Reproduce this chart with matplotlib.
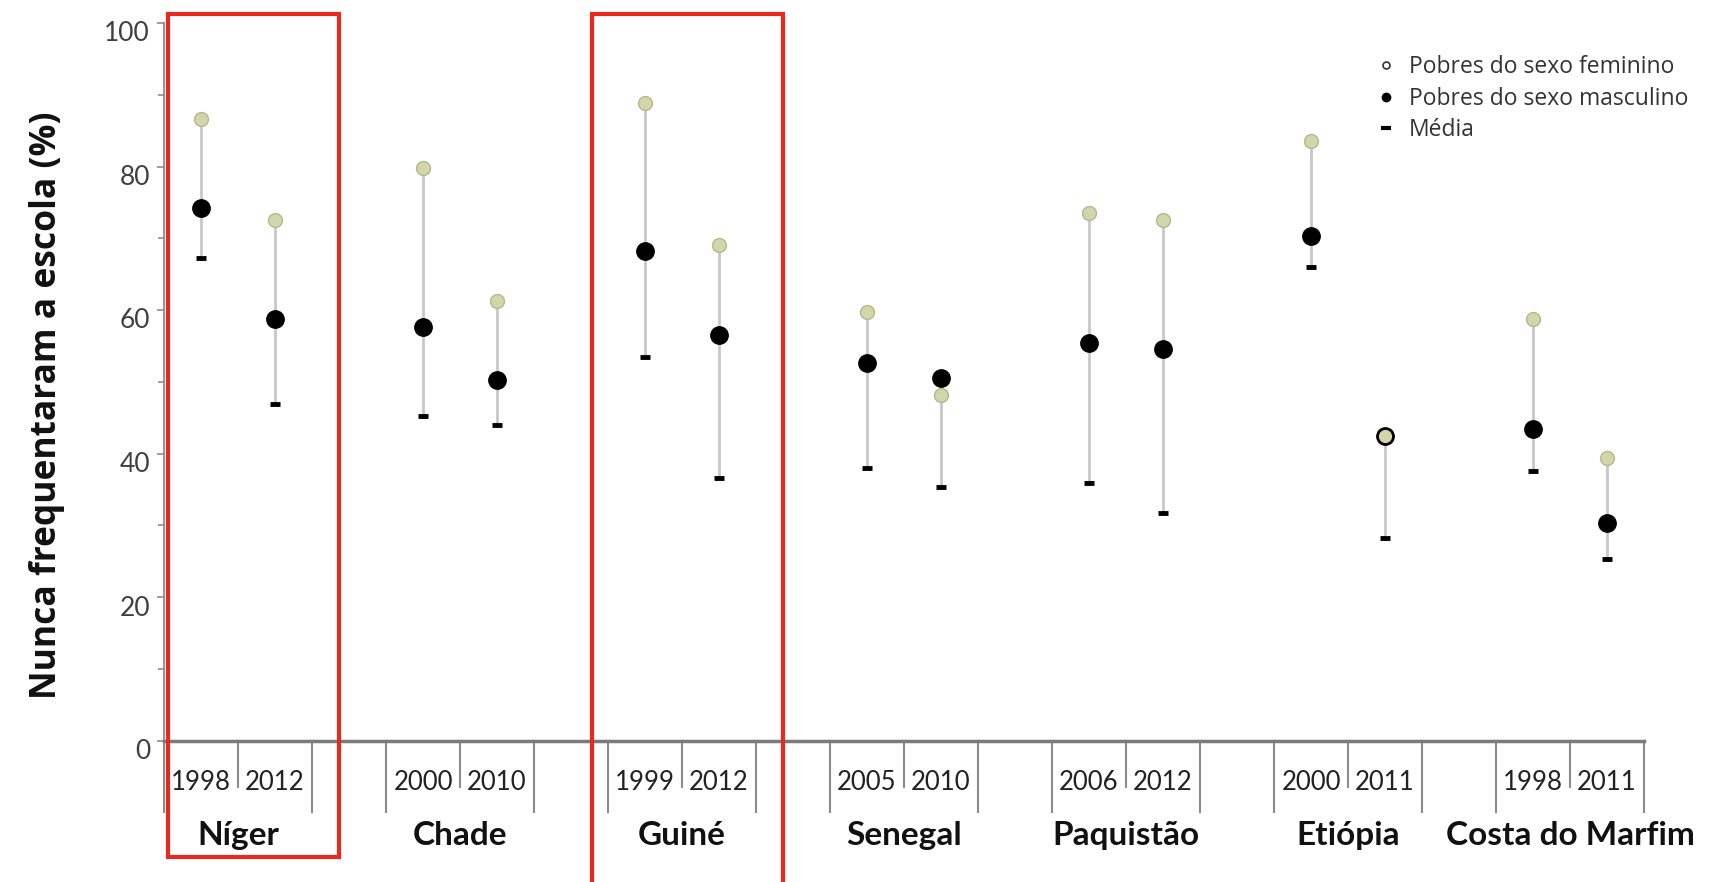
import numpy as np
import matplotlib.pyplot as plt
import matplotlib.transforms as mtransforms
from matplotlib.patches import Rectangle
from matplotlib.lines import Line2D

# dados
paises = ['Níger', 'Chade', 'Guiné', 'Senegal', 'Paquistão', 'Etiópia', 'Costa do Marfim']
anos = [['1998', '2012'], ['2000', '2010'], ['1999', '2012'], ['2005', '2010'],
        ['2006', '2012'], ['2000', '2011'], ['1998', '2011']]
feminino = [86.6, 72.5, 79.8, 61.3, 88.8, 69.1, 59.8, 48.2, 73.5, 72.6, 83.6, 42.5, 58.8, 39.4]
masculino = [74.2, 58.7, 57.7, 50.3, 68.3, 56.5, 52.6, 50.5, 55.4, 54.6, 70.3, 42.5, 43.5, 30.4]
media = [67.3, 46.9, 45.3, 44.0, 53.5, 36.6, 38.0, 35.4, 35.9, 31.7, 66.0, 28.3, 37.6, 25.3]
destaque = ['Níger', 'Guiné']

fem = np.array(feminino)
masc = np.array(masculino)
med = np.array(media)

# cada país ocupa 3 posições: dois anos + um espaço
grupo = np.repeat(np.arange(len(paises)), 2)
x = grupo * 3 + np.tile([0.5, 1.5], len(paises))

fig = plt.figure(figsize=(17.19, 8.82), dpi=100)
ax = fig.add_axes([0.0954, 0.160, 0.861, 0.814])

ax.vlines(x, med, np.maximum(fem, masc), color='#c8c8c8', lw=2, zorder=2)
ax.plot(x, med, ls='none', marker='_', ms=7, mew=3.5, color='black', zorder=3)
ax.plot(x, fem, ls='none', marker='o', ms=10, mfc='#d3d6ab', mec='#b4b88c', mew=1, zorder=3)
ax.plot(x, masc, ls='none', marker='o', ms=12.5, color='black', zorder=4)
igual = np.isclose(fem, masc)
ax.plot(x[igual], fem[igual], ls='none', marker='o', ms=8.5, mfc='#d3d6ab', mec='#d3d6ab',
        zorder=5)

ax.set_xlim(0, 3 * len(paises) - 1)
ax.set_ylim(0, 100)
ax.set_yticks(np.arange(0, 101, 20))
ax.set_yticks(np.arange(10, 100, 20), minor=True)
ax.set_xticks([])

for s in ['top', 'right']:
    ax.spines[s].set_visible(False)
ax.spines['left'].set_color('#8c8c8c')
ax.spines['left'].set_linewidth(1.3)
ax.spines['bottom'].set_color('#7a7a7a')
ax.spines['bottom'].set_linewidth(2.5)
ax.tick_params(axis='y', which='both', direction='out', color='#8c8c8c', width=1.2,
               labelsize=19, labelcolor='#404040', pad=5)
ax.tick_params(axis='y', which='major', length=5)
ax.tick_params(axis='y', which='minor', length=4)
desloc = mtransforms.ScaledTranslation(0, -6 / 72, fig.dpi_scale_trans)
for lab in ax.get_yticklabels():
    lab.set_fontfamily(['Lato', 'DejaVu Sans'])
    lab.set_transform(lab.get_transform() + desloc)

# divisões do eixo das categorias
for g, pais in enumerate(paises):
    ini = 3 * g
    ax.plot([ini, ini], [0, -9.9], color='#8c8c8c', lw=1.5, clip_on=False)
    ax.plot([ini + 2, ini + 2], [0, -9.9], color='#8c8c8c', lw=1.5, clip_on=False)
    ax.plot([ini + 1, ini + 1], [0, -6.4], color='#8c8c8c', lw=1.5, clip_on=False)
    for k, ano in enumerate(anos[g]):
        ax.text(ini + 0.5 + k, -5.8, ano, ha='center', va='center', fontsize=18.5,
                color='#222222', family=['Lato', 'DejaVu Sans'], clip_on=False)
    ax.text(ini + 1, -13.2, pais, ha='center', va='center', fontsize=24, fontweight='bold',
            color='#111111', family=['Lato', 'DejaVu Sans'], clip_on=False)
    if pais in destaque:
        esq = max(ini - 0.22, 0.05)
        baixo = -16.2 if g == 0 else -22
        ax.add_patch(Rectangle((esq, baixo), ini + 2.36 - esq, 101.2 - baixo, fill=False,
                               ec='#e8291c', lw=3, clip_on=False, zorder=6))

ax.set_ylabel('Nunca frequentaram a escola (%)', fontsize=25.5, fontweight='bold',
              family=['Open Sans', 'DejaVu Sans'], color='#111111')
ax.yaxis.set_label_coords(-0.067, 0.467)

handles = [
    Line2D([], [], ls='none', marker='o', ms=5, mfc='white', mec='#333333', mew=1.2),
    Line2D([], [], ls='none', marker='o', ms=6, color='black'),
    Line2D([], [], ls='none', marker='_', ms=7, mew=3, color='black'),
]
ax.legend(handles, ['Pobres do sexo feminino', 'Pobres do sexo masculino', 'Média'],
          loc='upper left', bbox_to_anchor=(0.818, 0.955), frameon=False, borderpad=0,
          borderaxespad=0, handlelength=1, handletextpad=0.5, labelspacing=0.32,
          prop={'family': ['Open Sans', 'DejaVu Sans'], 'size': 16.5}, labelcolor='#333333')

fig.savefig('out.png', dpi=100)
